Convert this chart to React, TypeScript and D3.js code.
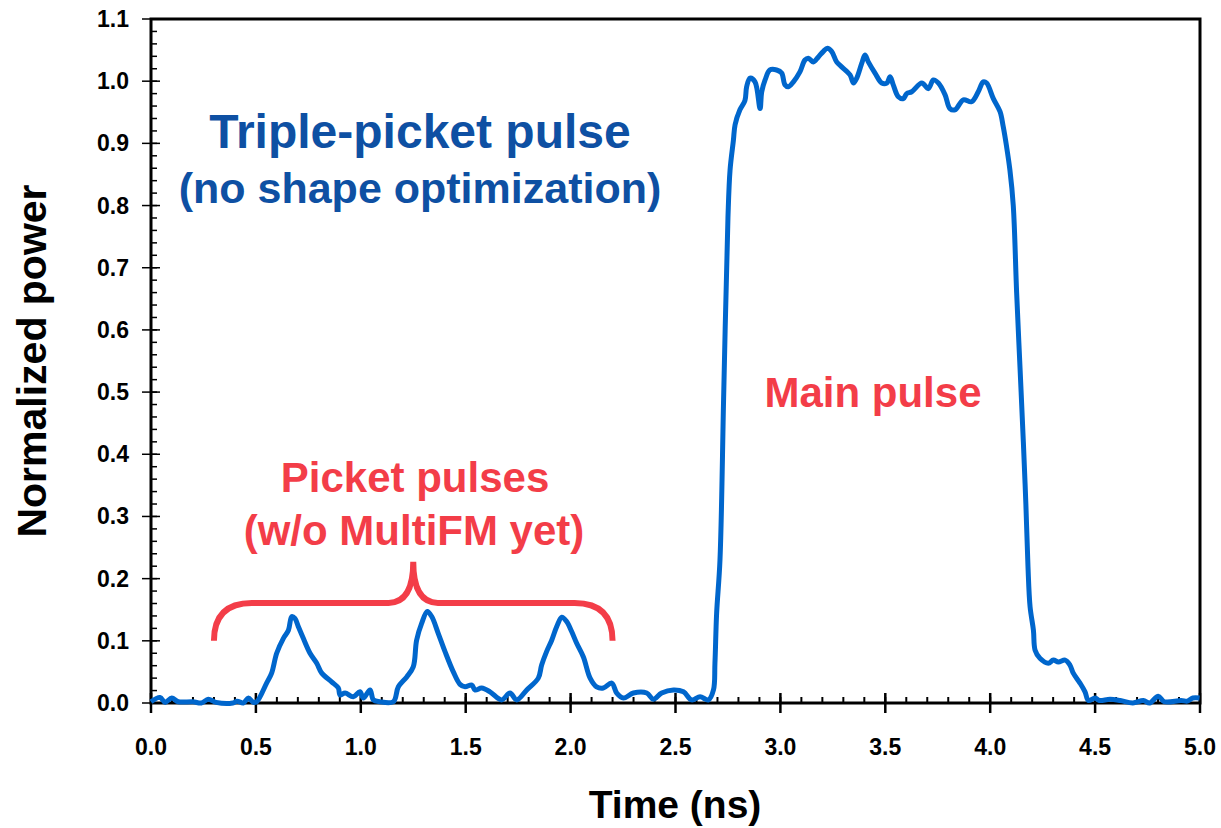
import React, { useEffect } from "react";
import { scaleLinear, line, curveCatmullRom, range } from "d3";

// trace
const timeNs = [
  0.0, 0.043, 0.067, 0.099, 0.13, 0.2, 0.24, 0.273, 0.31, 0.39, 0.41, 0.44, 0.464, 0.488,
  0.504, 0.551, 0.575, 0.599, 0.631, 0.655, 0.671, 0.686, 0.702, 0.726, 0.758, 0.79, 0.814,
  0.861, 0.893, 0.901, 0.925, 0.964, 0.996, 1.012, 1.044, 1.06, 1.09, 1.155, 1.179, 1.219,
  1.25, 1.266, 1.29, 1.317, 1.338, 1.369, 1.401, 1.441, 1.473, 1.497, 1.529, 1.544, 1.576,
  1.616, 1.671, 1.711, 1.743, 1.791, 1.846, 1.862, 1.886, 1.91, 1.934, 1.958, 1.981, 2.005,
  2.029, 2.061, 2.093, 2.124, 2.156, 2.196, 2.22, 2.252, 2.299, 2.363, 2.394, 2.434, 2.49,
  2.538, 2.577, 2.617, 2.657, 2.681, 2.688, 2.696, 2.712, 2.73, 2.75, 2.76, 2.776, 2.784,
  2.807, 2.831, 2.839, 2.855, 2.879, 2.903, 2.911, 2.927, 2.95, 2.982, 3.006, 3.022, 3.038,
  3.062, 3.093, 3.117, 3.133, 3.157, 3.181, 3.205, 3.224, 3.244, 3.268, 3.292, 3.332, 3.348,
  3.364, 3.388, 3.403, 3.419, 3.451, 3.483, 3.507, 3.523, 3.538, 3.562, 3.586, 3.602, 3.626,
  3.674, 3.705, 3.729, 3.753, 3.785, 3.808, 3.832, 3.872, 3.911, 3.943, 3.967, 3.983, 4.015,
  4.047, 4.062, 4.078, 4.094, 4.11, 4.126, 4.142, 4.158, 4.17, 4.18, 4.19, 4.206, 4.214,
  4.237, 4.277, 4.301, 4.325, 4.357, 4.38, 4.396, 4.428, 4.452, 4.468, 4.5, 4.52, 4.571,
  4.62, 4.68, 4.73, 4.76, 4.801, 4.83, 4.91, 4.94, 4.966, 4.998,
];
const power = [
  0.002, 0.009, 0.001, 0.008, 0.002, 0.002, 0.0, 0.006, 0.001, 0.0, 0.003, 0.0, 0.008, 0.001,
  0.002, 0.032, 0.048, 0.08, 0.104, 0.117, 0.139, 0.136, 0.123, 0.104, 0.08, 0.064, 0.048,
  0.034, 0.024, 0.013, 0.016, 0.01, 0.018, 0.008, 0.021, 0.005, 0.002, 0.002, 0.026, 0.042,
  0.058, 0.101, 0.128, 0.147, 0.139, 0.112, 0.083, 0.05, 0.03, 0.026, 0.029, 0.021, 0.024,
  0.018, 0.005, 0.016, 0.005, 0.021, 0.04, 0.061, 0.083, 0.101, 0.123, 0.138, 0.131, 0.115,
  0.096, 0.074, 0.04, 0.026, 0.024, 0.032, 0.016, 0.008, 0.016, 0.016, 0.006, 0.016, 0.021,
  0.018, 0.005, 0.01, 0.005, 0.021, 0.064, 0.144, 0.23, 0.5, 0.78, 0.857, 0.905, 0.93,
  0.954, 0.969, 0.991, 1.005, 0.999, 0.956, 0.983, 1.002, 1.018, 1.018, 1.013, 0.994, 0.991,
  0.999, 1.015, 1.034, 1.037, 1.031, 1.039, 1.048, 1.053, 1.048, 1.031, 1.023, 1.01, 0.997,
  1.005, 1.029, 1.042, 1.031, 1.013, 0.997, 0.997, 1.007, 0.994, 0.975, 0.972, 0.98, 0.983,
  0.997, 0.988, 1.002, 0.997, 0.978, 0.956, 0.954, 0.97, 0.967, 0.983, 0.999, 0.997, 0.972,
  0.951, 0.927, 0.895, 0.857, 0.8, 0.66, 0.54, 0.42, 0.32, 0.22, 0.155, 0.117, 0.085,
  0.072, 0.064, 0.069, 0.066, 0.069, 0.061, 0.048, 0.032, 0.018, 0.004, 0.008, 0.004, 0.006,
  0.004, 0.0, 0.004, 0.0, 0.011, 0.002, 0.004, 0.003, 0.008, 0.008,
];

const xMajor = [0, 0.5, 1, 1.5, 2, 2.5, 3, 3.5, 4, 4.5, 5];
const yMajor = [0, 0.1, 0.2, 0.3, 0.4, 0.5, 0.6, 0.7, 0.8, 0.9, 1.0, 1.1];
const xMinor = range(0, 51).map((i) => i / 10);
const yMinor = range(0, 56).map((i) => i / 50);

// brace over the picket pulses, in data units
const braceX = [0.3, 2.2];
const braceY = { end: 0.1, bar: 0.161, tip: 0.227 };

const W = 1221;
const H = 828;
const m = { left: 151, right: 1200, top: 19, bottom: 703 };

const blue = "#0e50a3";
const red = "#f33d48";
const font = "Arial, 'Liberation Sans', sans-serif";

export default function App() {
  useEffect(() => {
    document.body.style.margin = "0";
  }, []);

  const x = scaleLinear().domain([0, 5]).range([m.left, m.right]);
  const y = scaleLinear().domain([0, 1.1]).range([m.bottom, m.top]);

  const pts = timeNs.map((t, i) => [t, power[i]]);
  const trace = line()
    .x((d) => x(d[0]))
    .y((d) => y(d[1]))
    .curve(curveCatmullRom.alpha(0.5))(pts);

  const bx0 = x(braceX[0]);
  const bx1 = x(braceX[1]);
  const bm = (bx0 + bx1) / 2;
  const yE = y(braceY.end);
  const yB = y(braceY.bar);
  const yT = y(braceY.tip);
  const r = yE - yB;
  const rt = yB - yT;
  const brace =
    `M${bx0},${yE} Q${bx0},${yB} ${bx0 + r},${yB} L${bm - rt * 0.6},${yB} ` +
    `Q${bm},${yB} ${bm},${yT} Q${bm},${yB} ${bm + rt * 0.6},${yB} ` +
    `L${bx1 - r},${yB} Q${bx1},${yB} ${bx1},${yE}`;

  return (
    <svg width={W} height={H} style={{ display: "block", background: "#fff" }}>
      {/* minor ticks */}
      {xMinor.map((v) => (
        <line key={"xm" + v} x1={x(v)} x2={x(v)} y1={m.bottom} y2={m.bottom - 6} stroke="#000" strokeWidth={2} />
      ))}
      {yMinor.map((v) => (
        <line key={"ym" + v} x1={m.left} x2={m.left + 6} y1={y(v)} y2={y(v)} stroke="#000" strokeWidth={1.5} />
      ))}
      {xMajor.map((v) => (
        <g key={"xM" + v}>
          <line x1={x(v)} x2={x(v)} y1={m.bottom - 10} y2={m.bottom + 10} stroke="#000" strokeWidth={2.5} />
          <text x={x(v)} y={755} textAnchor="middle" fontFamily={font} fontWeight="bold" fontSize={23}>
            {v.toFixed(1)}
          </text>
        </g>
      ))}
      {yMajor.map((v) => (
        <g key={"yM" + v}>
          <line x1={m.left - 9} x2={m.left + 9} y1={y(v)} y2={y(v)} stroke="#000" strokeWidth={1.5} />
          <text x={129} y={y(v) + 8} textAnchor="end" fontFamily={font} fontWeight="bold" fontSize={23}>
            {v.toFixed(1)}
          </text>
        </g>
      ))}
      <rect
        x={m.left}
        y={m.top}
        width={m.right - m.left}
        height={m.bottom - m.top}
        fill="none"
        stroke="#000"
        strokeWidth={3}
      />

      <path d={trace} fill="none" stroke="#0066cc" strokeWidth={5} strokeLinejoin="round" />
      <path d={brace} fill="none" stroke={red} strokeWidth={6} />

      <text x={420} y={148} textAnchor="middle" fontFamily={font} fontWeight="bold" fontSize={48} fill={blue}>
        Triple-picket pulse
      </text>
      <text x={420} y={203} textAnchor="middle" fontFamily={font} fontWeight="bold" fontSize={43} fill={blue}>
        (no shape optimization)
      </text>
      <text x={415} y={492} textAnchor="middle" fontFamily={font} fontWeight="bold" fontSize={42} fill={red}>
        Picket pulses
      </text>
      <text x={414} y={545} textAnchor="middle" fontFamily={font} fontWeight="bold" fontSize={42} fill={red}>
        (w/o MultiFM yet)
      </text>
      <text x={873} y={407} textAnchor="middle" fontFamily={font} fontWeight="bold" fontSize={42} fill={red}>
        Main pulse
      </text>

      <text x={675} y={818} textAnchor="middle" fontFamily={font} fontWeight="bold" fontSize={39}>
        Time (ns)
      </text>
      <text
        transform={`translate(46,${(m.top + m.bottom) / 2}) rotate(-90)`}
        textAnchor="middle"
        fontFamily={font}
        fontWeight="bold"
        fontSize={41}
      >
        Normalized power
      </text>
    </svg>
  );
}
